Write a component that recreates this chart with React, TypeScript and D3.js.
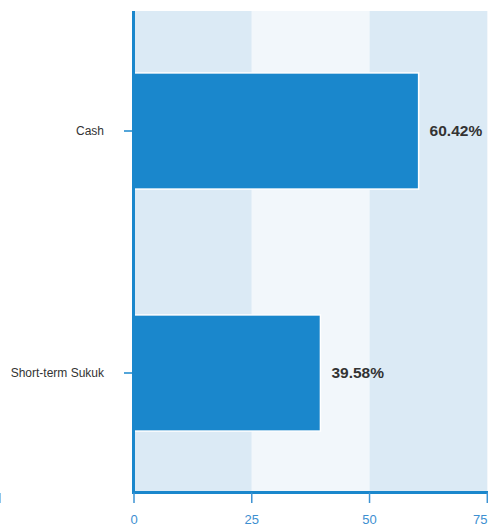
import { useEffect, useRef } from 'react'
import * as d3 from 'd3'

// ─── Data ─────────────────────────────────────────────────────────────────────

const CATEGORIES = ['Cash', 'Short-term Sukuk']
const VALUES = [60.42, 39.58]
const X_TICKS = [0, 25, 50, 75]
const BANDS = [0, 25, 50, 75, 100]

// ─── Constants ────────────────────────────────────────────────────────────────

const W = 488
const H = 526
const PLOT = { top: 11, bottom: 492.5, left: 134 }
const BAR = '#1a87cc'
const FONT = '"Liberation Sans", Arial, sans-serif'

export default function App() {
  const svgRef = useRef<SVGSVGElement>(null)

  useEffect(() => {
    if (!svgRef.current) return
    const svg = d3.select(svgRef.current)
    svg.selectAll('*').remove()

    const x = d3.scaleLinear().domain([0, 75]).range([PLOT.left, 487.3])
    const y = d3.scaleBand<string>()
      .domain(CATEGORIES)
      .range([10, 494])
      .paddingInner(0.52)
      .paddingOuter(0.26)

    // Alternating background bands
    svg.append('g').selectAll('rect')
      .data(d3.pairs(BANDS))
      .join('rect')
      .attr('x', (d) => x(d[0]))
      .attr('y', PLOT.top)
      .attr('width', (d) => x(d[1]) - x(d[0]))
      .attr('height', PLOT.bottom - PLOT.top)
      .attr('fill', (_, i) => (i % 2 === 0 ? '#dbeaf5' : '#f2f7fb'))

    // Bars
    svg.append('g').selectAll('rect')
      .data(VALUES)
      .join('rect')
      .attr('x', x(0))
      .attr('y', (_, i) => y(CATEGORIES[i])!)
      .attr('width', (d) => x(d) - x(0))
      .attr('height', y.bandwidth())
      .attr('fill', BAR)
      .attr('stroke', '#fff')
      .attr('stroke-width', 1.5)

    // Value labels
    svg.append('g').selectAll('text')
      .data(VALUES)
      .join('text')
      .attr('x', (d) => x(d) + 11)
      .attr('y', (_, i) => y(CATEGORIES[i])! + y.bandwidth() / 2)
      .attr('dy', '0.35em')
      .attr('font-family', FONT)
      .attr('font-size', 15.5)
      .attr('font-weight', 'bold')
      .attr('fill', '#333')
      .text((d) => `${d.toFixed(2)}%`)

    // Y axis
    svg.append('line')
      .attr('x1', PLOT.left - 0.5).attr('x2', PLOT.left - 0.5)
      .attr('y1', PLOT.top).attr('y2', PLOT.bottom + 1.5)
      .attr('stroke', BAR).attr('stroke-width', 3)

    const yt = svg.append('g').selectAll('g')
      .data(CATEGORIES)
      .join('g')
      .attr('transform', (d) => `translate(0,${y(d)! + y.bandwidth() / 2})`)
    yt.append('line')
      .attr('x1', 124).attr('x2', PLOT.left - 1)
      .attr('stroke', BAR).attr('stroke-width', 1.5)
    yt.append('text')
      .attr('x', 104)
      .attr('dy', '0.35em')
      .attr('text-anchor', 'end')
      .attr('font-family', FONT)
      .attr('font-size', 12)
      .attr('fill', '#333')
      .text((d) => d)

    // X axis
    svg.append('line')
      .attr('x1', PLOT.left - 2).attr('x2', W)
      .attr('y1', PLOT.bottom).attr('y2', PLOT.bottom)
      .attr('stroke', BAR).attr('stroke-width', 3)

    const xt = svg.append('g').selectAll('g')
      .data(X_TICKS)
      .join('g')
      .attr('transform', (d) => `translate(${x(d)},0)`)
    xt.append('line')
      .attr('y1', PLOT.bottom).attr('y2', 503)
      .attr('stroke', '#3d93d3').attr('stroke-width', 1.5)
    // last label is pulled inside the edge
    xt.append('text')
      .attr('x', (d, i) => (i === X_TICKS.length - 1 ? W - 0.5 - x(d) : 0))
      .attr('y', 524)
      .attr('text-anchor', (_, i) => (i === X_TICKS.length - 1 ? 'end' : 'middle'))
      .attr('font-family', FONT)
      .attr('font-size', 13)
      .attr('fill', '#3d8fd1')
      .text((d) => d)

    // stray tick at the left edge
    svg.append('line')
      .attr('x1', 0.5).attr('x2', 0.5)
      .attr('y1', 493).attr('y2', 503)
      .attr('stroke', '#8cc6ec').attr('stroke-width', 1)
  }, [])

  return (
    <svg
      ref={svgRef}
      width={W}
      height={H}
      style={{ position: 'absolute', left: 0, top: 0, background: '#fff' }}
    />
  )
}
